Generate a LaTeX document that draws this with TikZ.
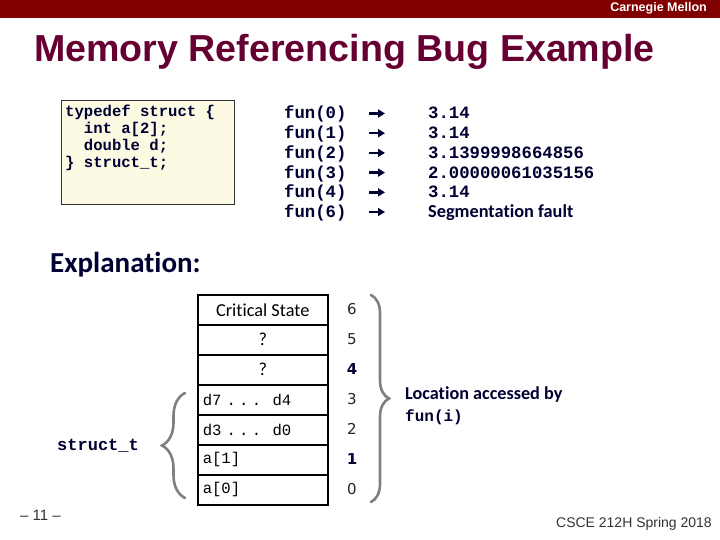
\documentclass[tikz,border=0pt]{standalone}
\usepackage{fontspec}
\setmainfont{Liberation Sans}
\newfontfamily\calib[Ligatures=NoCommon]{Carlito}
\newfontfamily\cour{Liberation Mono}
\newfontfamily\djv{DejaVu Sans}
\usetikzlibrary{decorations.pathreplacing,arrows.meta}
\definecolor{barred}{RGB}{128,0,0}
\definecolor{titlecol}{RGB}{102,0,51}
\definecolor{navytxt}{RGB}{0,0,51}
\definecolor{codefill}{RGB}{252,250,227}
\definecolor{bracegray}{RGB}{128,128,128}
\tikzset{
  codetxt/.style={anchor=base west, inner sep=0pt, text=navytxt, font=\cour\bfseries\fontsize{15.6}{17}\selectfont},
  funtxt/.style={anchor=base west, inner sep=0pt, text=navytxt, font=\cour\bfseries\fontsize{17.3}{19}\selectfont},
  segtxt/.style={anchor=base west, inner sep=0pt, text=navytxt, font=\calib\bfseries\fontsize{18.3}{20}\selectfont},
  resarrow/.style={-{Triangle[length=7pt,width=8pt]}, line width=2.6pt, navytxt},
  cell/.style={draw=black, line width=1.5pt, minimum width=130pt, minimum height=30pt, inner sep=0pt, anchor=north west},
  cellsans/.style={cell, font=\calib\fontsize{18.3}{20}\selectfont, text=black},
  cellmono/.style={cell, font=\cour\fontsize{15.6}{17}\selectfont, text=black, align=left, text width=120pt},
  numtxt/.style={inner sep=0pt, font=\djv\fontsize{15}{17}\selectfont, text=black!85},
  numbold/.style={numtxt, font=\djv\bfseries\fontsize{15}{17}\selectfont, text=navytxt},
  bracestyle/.style={draw=bracegray, line width=2.6pt, line cap=round, decorate},
}
\newcommand{\dotsgap}{.\hspace{3.2pt}.\hspace{3.2pt}.}
\begin{document}
\begin{tikzpicture}[x=1pt, y=-1pt]
\useasboundingbox (0,0) rectangle (720,540);
\fill[white] (0,0) rectangle (720,540);
% top bar
\fill[barred] (0,0) rectangle (720,18);
\node[anchor=east, inner sep=0pt, text=white, font=\bfseries\fontsize{12.5}{14}\selectfont] (cmu) at (707,8.5) {Carnegie Mellon};
% title
\node[anchor=base west, inner sep=0pt, text=titlecol, font=\bfseries\fontsize{37.6}{42}\selectfont] (title) at (34,62) {Memory Referencing Bug Example};
% code box
\node[draw=black!80, line width=1pt, fill=codefill, anchor=north west, minimum width=173pt, minimum height=104pt, inner sep=0pt] (codebox) at (61,100) {};
\node[codetxt] (c1) at (65,117) {typedef struct \{};
\node[codetxt] (c2) at (65,134) {\ \ int a[2];};
\node[codetxt] (c3) at (65,151) {\ \ double d;};
\node[codetxt] (c4) at (65,168) {\} struct\_t;};
% fun calls
\foreach \i/\arg/\val/\yy in {0/0/3.14/119, 1/1/3.14/138.7, 2/2/3.1399998664856/158.4, 3/3/2.00000061035156/178.1, 4/4/3.14/197.8}{
  \node[funtxt] (f\i) at (284,\yy) {fun(\arg)};
  \coordinate (as\i) at (369,\yy-5.5);
  \coordinate (ae\i) at (385,\yy-5.5);
  \draw[resarrow] (as\i) -- (ae\i);
  \node[funtxt] (v\i) at (428,\yy) {\val};
}
\node[funtxt] (f5) at (284,217.5) {fun(6)};
\coordinate (as5) at (369,212);
\coordinate (ae5) at (385,212);
\draw[resarrow] (as5) -- (ae5);
\node[segtxt] (v5) at (428,217.5) {Segmentation fault};
% explanation
\node[anchor=base west, inner sep=0pt, text=navytxt, font=\calib\bfseries\fontsize{29}{32}\selectfont] (expl) at (50,272) {Explanation:};
% table
\node[cellsans] (r6) at (197,294) {Critical State};
\node[cellsans] (r5) at (197,324) {?};
\node[cellsans] (r4) at (197,354) {?};
\node[cellmono] (r3) at (197,384) {d7 \dotsgap\hspace{3.6pt} d4};
\node[cellmono] (r2) at (197,414) {d3 \dotsgap\hspace{3.6pt} d0};
\node[cellmono] (r1) at (197,444) {a[1]};
\node[cellmono] (r0) at (197,474) {a[0]};
\node[numtxt] (n6) at (352,309) {6};
\node[numtxt] (n5) at (352,339) {5};
\node[numbold] (n4) at (352,369) {4};
\node[numtxt] (n3) at (352,399) {3};
\node[numtxt] (n2) at (352,429) {2};
\node[numbold] (n1) at (352,459) {1};
\node[numtxt] (n0) at (352,489) {0};
% braces
\coordinate (rbt) at (371,295);
\coordinate (rbb) at (371,502);
\draw[bracestyle, decoration={brace, amplitude=18pt, aspect=0.5}] (rbt) -- (rbb);
\coordinate (lbb) at (185,498);
\coordinate (lbt) at (185,393);
\draw[bracestyle, decoration={brace, amplitude=23pt, aspect=0.5}] (lbb) -- (lbt);
\node[anchor=base west, inner sep=0pt, text=navytxt, font=\cour\bfseries\fontsize{17}{19}\selectfont] (st) at (57,450) {struct\_t};
\node[anchor=base west, inner sep=0pt, text=navytxt, font=\calib\bfseries\fontsize{18.2}{20}\selectfont] (loc1) at (405,399) {Location accessed by};
\node[anchor=base west, inner sep=0pt, text=navytxt, font=\cour\bfseries\fontsize{16}{18}\selectfont] (loc2) at (405,421) {fun(i)};
% footer
\node[anchor=base west, inner sep=0pt, text=black!80, font=\fontsize{15}{17}\selectfont] (pg) at (20,520) {– 11 –};
\node[anchor=base east, inner sep=0pt, text=black!80, font=\fontsize{14}{16}\selectfont] (course) at (712,527) {CSCE 212H Spring 2018};
\end{tikzpicture}
\end{document}
